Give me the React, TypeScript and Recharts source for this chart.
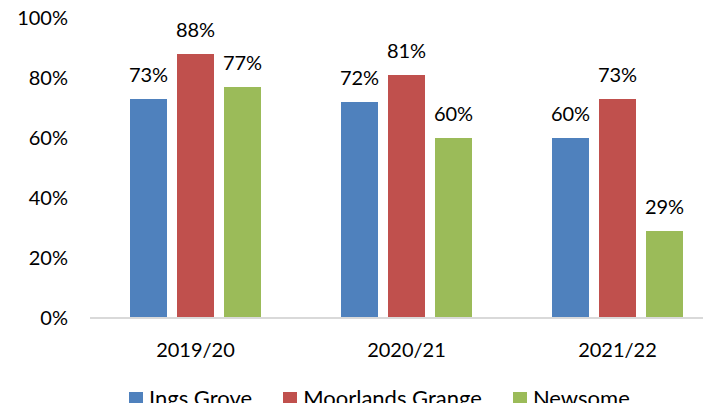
import React from "react";
import { BarChart, Bar, XAxis, YAxis, Legend, LabelList } from "recharts";

const categories = ["2019/20", "2020/21", "2021/22"];
const ingsGrove = [73, 72, 60];
const moorlandsGrange = [88, 81, 73];
const newsome = [77, 60, 29];
const yTicks = [0, 20, 40, 60, 80, 100];

const seriesNames = ["Ings Grove", "Moorlands Grange", "Newsome"];
const seriesColors = ["#4F81BD", "#C0504D", "#9BBB59"];

const data = categories.map((c, i) => ({
  category: c,
  ings: ingsGrove[i],
  moorlands: moorlandsGrange[i],
  newsome: newsome[i],
}));

const FONT = "Lato, 'Open Sans', sans-serif";

const LegendContent = (props: any) => {
  const payload = props.payload || [];
  return (
    <div style={{ display: "flex", alignItems: "center", height: 24, fontFamily: FONT, fontSize: 22, color: "#000" }}>
      {payload.map((p: any, i: number) => (
        <div key={i} style={{ display: "flex", alignItems: "center", marginRight: 31 }}>
          <div style={{ width: 14, height: 13, background: p.color, marginRight: 6 }} />
          <span style={{ lineHeight: "24px", whiteSpace: "nowrap" }}>{p.value}</span>
        </div>
      ))}
    </div>
  );
};

export default function App() {
  const keys = ["ings", "moorlands", "newsome"];
  return (
    <div style={{ margin: -8, width: 711, height: 411, overflow: "hidden", position: "relative", background: "#fff" }}>
      <BarChart
        width={723}
        height={411}
        data={data}
        margin={{ top: 18, right: 0, left: 0, bottom: 39 }}
        barGap={10}
        barCategoryGap={40}
      >
        <XAxis
          dataKey="category"
          height={30}
          axisLine={{ stroke: "#D9D9D9", strokeWidth: 2 }}
          tickLine={false}
          tickSize={0}
          tickMargin={25}
          tick={{ fill: "#000", fontSize: 20, fontFamily: FONT }}
          interval={0}
        />
        <YAxis
          width={90}
          domain={[0, 100]}
          ticks={yTicks}
          interval={0}
          axisLine={false}
          tickLine={false}
          tickSize={0}
          tickMargin={22}
          tickFormatter={(v: number) => `${v}%`}
          tick={{ fill: "#000", fontSize: 20, fontFamily: FONT }}
        />
        <Legend
          content={<LegendContent />}
          verticalAlign="bottom"
          wrapperStyle={{ top: 386, left: 129, bottom: "auto", width: 600 }}
        />
        {keys.map((k, i) => (
          <Bar key={k} dataKey={k} name={seriesNames[i]} fill={seriesColors[i]} isAnimationActive={false}>
            <LabelList
              dataKey={k}
              position="top"
              offset={17}
              formatter={(v: any) => `${v}%`}
              style={{ fill: "#000", fontSize: 20, fontFamily: FONT }}
            />
          </Bar>
        ))}
      </BarChart>
    </div>
  );
}
